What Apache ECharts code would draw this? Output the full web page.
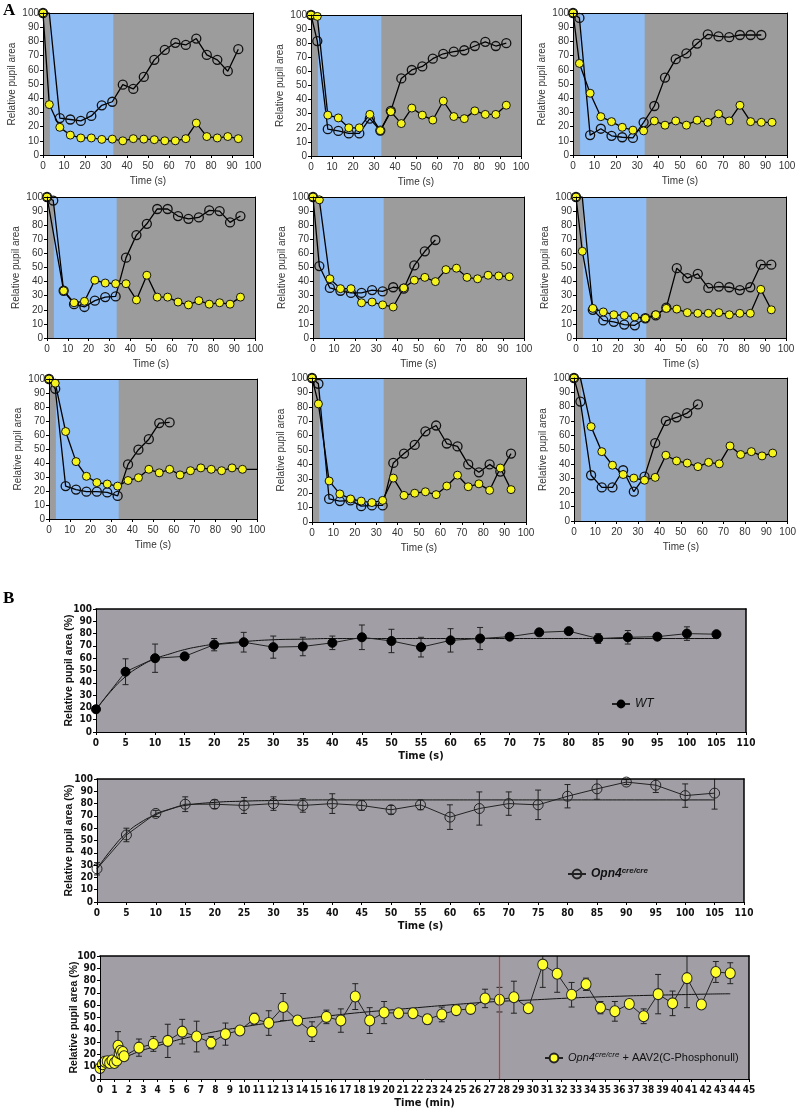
<!DOCTYPE html>
<html><head><meta charset="utf-8">
<script src="https://cdn.jsdelivr.net/npm/echarts@6/dist/echarts.min.js"></script>
<style>html,body{margin:0;padding:0;background:#fff}#c{width:799px;height:1115px}</style>
</head><body><div id="c"></div>
<script>
// ---------- DATA: part A (single-animal traces) ----------
const tA = [0,3,8,13,18,23,28,33,38,43,48,53,58,63,68,73,78,83,88,93];
const lightWindow = [3.3, 33.5];
const a1Black  = [100,100,26,25,24,27.5,35,37.5,49.5,46.5,55,67,74,79,77.5,82,70.5,67,59,74.5];
const a1Yellow = [100,35.5,19.5,14,12,12,11,11.2,10,11.5,11.2,10.8,10,10,11.5,22.5,13,12,13,11.5];
const a2Black  = [100,81.5,19,17.8,16,16,26.5,18,32,55,61,63.5,69,72.5,74,75,78,81,78,80];
const a2Yellow = [100,99,29,27,20,20,29.5,18,31.5,23,34,29,25.5,39,28,26.5,32,29.5,29.5,36];
const a3Black  = [100,96.5,14,18.5,13.5,12.5,12,23,34.5,54.5,67.5,71.5,78.5,85,83.5,83,84.5,84.5,84.5];
const a3Yellow = [100,64.5,43.5,27,23.5,19.5,17.5,17,24,21,24,21,24.5,23,29,24,35,23.5,23,23];
const a4Black  = [100,97.5,33.5,24,22,26.5,29,29.5,57,73,81,91.5,91.5,86.5,84.5,85.5,90.5,90,82,86.5];
const a4Yellow = [100,null,33.5,25,26,41,39,38.5,38.5,27,44.5,29,29,25.5,23.5,26.5,24,25,24,29];
const a5Black  = [100,51,35.5,33.5,32,32,34,33,36,35,51.5,61.5,69.5];
const a5Yellow = [100,98,42,35,35,25,25.5,23.5,22,35.5,41,43,40,48.5,49.5,43,42,44.5,44,43.5];
const a6Black  = [100,100,20,12.5,11.5,9.5,9,14,16,21.5,49.5,42.5,45.5,35.5,36.5,36,34,36,52,52];
const a6Yellow = [100,61.5,21,18.5,16.5,16,15,14,16.5,21,20.5,18,17.5,17.5,18,16.5,17.5,17.5,34.5,20];
const a7Black  = [100,93,23.5,21,19.5,19.5,19,16.5,39,49.5,57,68.5,69];
const a7Yellow = [100,97,62.5,41,30.5,26,25,23.5,27.5,29.5,35.5,33,35.5,31.5,34.5,36.5,35.5,34.5,36.5,35.5];
const a7YellowTail = [100, 35.5];   // trace continues to the axis end without a marker
const a8Black  = [100,96,16,14.5,15,11,11.5,11.5,41,47.5,53.5,63,67,54.5,52.5,40,34.5,40,35,47.5];
const a8Yellow = [100,82,28.5,19.5,16,14.5,13.5,15,30.5,18.5,20,21,19,25,32.5,24.5,26.5,22,37.5,22.5];
const a9Black  = [100,83.5,32,23.5,23.5,35.5,20.5,31,54.5,70,72.5,75.5,81.5];
const a9Yellow = [100,100,66,48.5,39,32.5,30,28.5,30.5,46,42,40.5,38,41,40,52.5,46.5,48.5,45.5,47.5];

// ---------- DATA: part B ----------
const tB = [0,5,10,15,20,25,30,35,40,45,50,55,60,65,70,75,80,85,90,95,100,105];
const wtMean = [18.5,49,60,61.5,71,73,69,69.5,72.5,77,74,69,74.5,76,77.5,81,82,76,77,77.5,80,79.5];
const wtErr  = [2,10.5,11.5,2.5,5,8,9,7.5,5.5,10,9.5,8,9.5,9,1.5,1.5,1.5,4,5.5,2.5,5.5,2];
const wtFitT = [0,2.5,5,7.5,10,12.5,15,17.5,20,25,30,35,40,50,60,70,80,90,105];
const wtFit  = [18,33,45,53.5,59.5,63.5,67,69.5,71.3,73.5,75,75.5,76,76,76,76,76,76,76];
const opnMean = [27,54.5,72,79.5,79.5,78.5,80,78.5,80,78.5,75,79,69,76,80,79,86,92,97.5,95,86.5,88.5];
const opnErr  = [5,5.5,2.5,6,3.5,6.5,5.5,5.5,8,4,3.5,4,10,13.5,9.5,12,9.5,8.5,2,6,9.5,13];
const opnFitT = [0,2.5,5,7.5,10,12.5,15,20,25,30,40,50,60,70,80,90,105];
const opnFit  = [27,43,56,65,71,75.5,78.5,81,82,82.5,83,83,83,83,83,83,83];
const aavT = [0,0.17,0.33,0.5,0.67,0.83,1.0,1.17,1.25,1.33,1.42,1.5,1.58,1.67,
  2.7,3.7,4.7,5.7,6.7,7.7,8.7,9.7,10.7,11.7,12.7,13.7,14.7,15.7,16.7,17.7,18.7,19.7,20.7,21.7,
  22.7,23.7,24.7,25.7,26.7,27.7,28.7,29.7,30.7,31.7,32.7,33.7,34.7,35.7,36.7,37.7,38.7,39.7,40.7,41.7,42.7,43.7];
const aavMean = [9,12,14,14.5,13,15,13,15,27,21,23,20,22,18.5,
  25.5,28.5,31,38.5,34.5,29.5,36.5,39.5,49,45.5,58.5,47.5,38.5,50.5,47.5,67,47.5,54,53.5,53.5,
  48.5,52.5,56,57,65.5,64.5,66.5,57.5,93,85.5,68.5,77,58,55,61,51,69,61.5,82,60.5,87,86];
const aavErr = [1,1,1,1,1,1,1,1,11.5,3,2,2,2,2,
  7,6,13.5,10,12.5,5,9,1.5,4.5,10,11,3.5,8,5.5,9.5,10.5,10.5,9,1.5,2.5,
  4,6,2.5,2.5,7.5,10,13,1.5,18.5,15,10,5,5,8,1.5,6,16,10,24,1.5,8.5,8.5];
const aavFitT = [0,1,2,3,4,5,6,7,8,10,12,14,16,18,20,22,24,26,28,30,32,34,36,38,40,42,43.7];
const aavFit  = [9,14,19,23.5,27,30.5,33.5,36,38.5,42.5,46,49,51.5,54,56,58,60,61.8,63.3,64.3,65.5,66.5,67.3,68,68.5,69,69.3];
const aavMarkTime = 27.7;
const tickB12 = 5, tickB3 = 1;

// ---------- LAYOUT / STYLE ----------
const FA = "'Liberation Sans', Arial, sans-serif";
const FN = "'Liberation Sans Narrow', 'Arial Narrow', 'DejaVu Sans Condensed', sans-serif";
const gridsA = [
  [43,13,210,142],[311,15,210,141],[573,13,214,142],
  [47,197,208,141],[313,197,211,141],[576,197,210,141],
  [49,379,208,140],[312,378,214,144],[574,378,214,143]
];
const gridsB = [[96,609,650,123],[97,779,647,123],[100,956,649,123]];
const panelsA = [
  [a1Black,a1Yellow],[a2Black,a2Yellow],[a3Black,a3Yellow],
  [a4Black,a4Yellow],[a5Black,a5Yellow],[a6Black,a6Yellow],
  [a7Black,a7Yellow],[a8Black,a8Yellow],[a9Black,a9Yellow]
];

const grid = [], xAxis = [], yAxis = [], series = [];
function addFrame(gi, xmin, xmax, w) {
  xAxis.push({gridIndex:gi, type:'value', min:xmin, max:xmax, position:'top', z:6,
    axisLine:{show:true, onZero:false, lineStyle:{color:'#000', width:w}}, axisTick:{show:false},
    axisLabel:{show:false}, splitLine:{show:false}});
  yAxis.push({gridIndex:gi, type:'value', min:0, max:100, position:'right', z:6,
    axisLine:{show:true, onZero:false, lineStyle:{color:'#000', width:w}}, axisTick:{show:false},
    axisLabel:{show:false}, splitLine:{show:false}});
}
function toPts(t, v) {
  return v.map((y, k) => y === null ? [t[k], null] :
    {value:[t[k], y], symbolSize: (k === 1 && y === 100) ? 0 : undefined});
}

// ---- Part A panels ----
panelsA.forEach((p, i) => {
  const g = gridsA[i];
  grid.push({left:g[0], top:g[1], width:g[2], height:g[3], show:true, backgroundColor:'#9c9c9c', borderWidth:0});
  const xi = xAxis.length, yi = yAxis.length;
  xAxis.push({gridIndex:i, type:'value', min:0, max:100, interval:10, z:6,
    axisLine:{show:true, onZero:false, lineStyle:{color:'#000', width:1}},
    axisTick:{show:true, length:3, lineStyle:{color:'#000'}},
    axisLabel:{fontSize:10, color:'#333', margin:6, fontFamily:FA}, splitLine:{show:false},
    name:'Time (s)', nameLocation:'middle', nameGap:21, nameMoveOverlap:false,
    nameTextStyle:{fontSize:10, color:'#333', fontFamily:FA}});
  yAxis.push({gridIndex:i, type:'value', min:0, max:100, interval:10, z:6,
    axisLine:{show:true, onZero:false, lineStyle:{color:'#000', width:1}},
    axisTick:{show:true, length:3, lineStyle:{color:'#000'}},
    axisLabel:{fontSize:10, color:'#333', margin:4, fontFamily:FA}, splitLine:{show:false},
    name:'Relative pupil area', nameLocation:'middle', nameGap:26, nameMoveOverlap:false,
    nameTextStyle:{fontSize:10, color:'#333', fontFamily:FA}});
  addFrame(i, 0, 100, 1);
  series.push({type:'line', xAxisIndex:xi, yAxisIndex:yi, data:[], z:1, silent:true,
    markArea:{silent:true, itemStyle:{color:'#8fbdf4', opacity:1},
      data:[[{xAxis:lightWindow[0], yAxis:0},{xAxis:lightWindow[1], yAxis:100}]]}});
  series.push({type:'line', xAxisIndex:xi, yAxisIndex:yi, z:3, connectNulls:true,
    data: toPts(tA, p[0]), symbol:'circle', symbolSize:9,
    lineStyle:{color:'#000', width:1.3}, itemStyle:{color:'rgba(0,0,0,0)', borderColor:'#111', borderWidth:1.3}});
  series.push({type:'line', xAxisIndex:xi, yAxisIndex:yi, z:4, connectNulls:true,
    data: toPts(tA, p[1]), symbol:'circle', symbolSize:8,
    lineStyle:{color:'#000', width:1.3}, itemStyle:{color:'#f4f41c', borderColor:'#111', borderWidth:1}});
  if (i === 6) {
    series.push({type:'line', xAxisIndex:xi, yAxisIndex:yi, z:3, symbol:'none',
      data:[[tA[tA.length-1], a7Yellow[a7Yellow.length-1]], a7YellowTail],
      lineStyle:{color:'#000', width:1.3}});
  }
});

// ---- Part B panels ----
function errSeries(xi, yi, t, mean, err) {
  return {type:'custom', xAxisIndex:xi, yAxisIndex:yi, z:3, silent:true,
    data: t.map((x,k) => [x, mean[k]-err[k], mean[k]+err[k]]),
    encode:{x:0, y:[1,2]},
    renderItem(params, api) {
      const x = api.value(0), lo = api.value(1), hi = api.value(2);
      const p1 = api.coord([x, Math.min(hi,100)]), p2 = api.coord([x, Math.max(lo,0)]);
      const w = 3, st = {stroke:'#222', lineWidth:1};
      const ch = [{type:'line', shape:{x1:p1[0], y1:p1[1], x2:p2[0], y2:p2[1]}, style:st}];
      if (hi <= 100) ch.push({type:'line', shape:{x1:p1[0]-w, y1:p1[1], x2:p1[0]+w, y2:p1[1]}, style:st});
      if (lo >= 0) ch.push({type:'line', shape:{x1:p2[0]-w, y1:p2[1], x2:p2[0]+w, y2:p2[1]}, style:st});
      return {type:'group', children:ch};
    }};
}
const bDefs = [
  {xmax:110, interval:tickB12, xname:'Time (s)', t:tB, mean:wtMean, err:wtErr, ft:wtFitT, fit:wtFit, name:'WT',
   sym:{symbolSize:9, itemStyle:{color:'#000', borderColor:'#000'}}},
  {xmax:110, interval:tickB12, xname:'Time (s)', t:tB, mean:opnMean, err:opnErr, ft:opnFitT, fit:opnFit, name:'Opn4 cre/cre',
   sym:{symbolSize:10, itemStyle:{color:'rgba(0,0,0,0)', borderColor:'#222', borderWidth:1}}},
  {xmax:45, interval:tickB3, xname:'Time (min)', t:aavT, mean:aavMean, err:aavErr, ft:aavFitT, fit:aavFit, name:'Opn4 cre/cre + AAV2(C-Phosphonull)',
   sym:{symbolSize:[10,11], itemStyle:{color:'#ffff2e', borderColor:'#222', borderWidth:1}}}
];
const bNameGap = [21, 22, 20];
bDefs.forEach((d, j) => {
  const gi = grid.length, g = gridsB[j];
  grid.push({left:g[0], top:g[1], width:g[2], height:g[3], show:true, backgroundColor:'#a19fa5', borderWidth:0});
  const xi = xAxis.length, yi = yAxis.length;
  xAxis.push({gridIndex:gi, type:'value', min:0, max:d.xmax, interval:d.interval, z:6,
    axisLine:{show:true, onZero:false, lineStyle:{color:'#000', width:1}},
    axisTick:{show:true, length:3, lineStyle:{color:'#000'}},
    axisLabel:{fontSize:10, fontWeight:'bold', color:'#111', margin:6, fontFamily:FN}, splitLine:{show:false},
    name:d.xname, nameLocation:'middle', nameGap:19, nameMoveOverlap:false,
    nameTextStyle:{fontSize:11, fontWeight:'bold', color:'#111', fontFamily:FN}});
  yAxis.push({gridIndex:gi, type:'value', min:0, max:100, interval:10, z:6,
    axisLine:{show:true, onZero:false, lineStyle:{color:'#000', width:1}},
    axisTick:{show:true, length:3, lineStyle:{color:'#000'}},
    axisLabel:{fontSize:10, fontWeight:'bold', color:'#111', margin:4, fontFamily:FN}, splitLine:{show:false},
    name:'Relative pupil area (%)', nameLocation:'middle', nameGap:bNameGap[j], nameMoveOverlap:false,
    nameTextStyle:{fontSize:10.5, fontWeight:'bold', color:'#111', fontFamily:FA}});
  addFrame(gi, 0, d.xmax, 1.5);
  series.push({type:'line', xAxisIndex:xi, yAxisIndex:yi, z:2, symbol:'none', smooth:true, silent:true,
    data: d.ft.map((x,k) => [x, d.fit[k]]), lineStyle:{color:'#111', width:1}});
  series.push(errSeries(xi, yi, d.t, d.mean, d.err));
  if (j === 2) {
    series.push({type:'line', xAxisIndex:xi, yAxisIndex:yi, data:[], z:2, silent:true,
      markLine:{silent:true, symbol:'none', label:{show:false},
        lineStyle:{color:'#cc3a3a', width:1.2, type:'solid', opacity:1},
        emphasis:{disabled:true}, data:[{xAxis:aavMarkTime}]}});
  }
  series.push(Object.assign({type:'line', name:d.name, xAxisIndex:xi, yAxisIndex:yi, z:4, symbol:'circle',
    data: d.t.map((x,k) => [x, d.mean[k]]), lineStyle:{color:'#222', width:1}}, d.sym));
});

const legend = [
  {data:['WT'], left:606, top:693, itemWidth:18, itemHeight:11, selectedMode:false,
   textStyle:{fontSize:12, fontStyle:'italic', color:'#111', fontFamily:FA}},
  {data:['Opn4 cre/cre'], left:562, top:862, itemWidth:18, itemHeight:11, selectedMode:false,
   formatter:() => '{a|Opn4}{s|cre/cre}',
   textStyle:{color:'#111', rich:{
     a:{fontSize:12, fontStyle:'italic', fontWeight:'bold', fontFamily:FA, color:'#111'},
     s:{fontSize:8, fontStyle:'italic', fontWeight:'bold', fontFamily:FA, color:'#111', verticalAlign:'top', padding:[0,0,6,0]}}}},
  {data:['Opn4 cre/cre + AAV2(C-Phosphonull)'], left:539, top:1046, itemWidth:18, itemHeight:11, selectedMode:false,
   formatter:() => '{a|Opn4}{s|cre/cre}{b| + AAV2(C-Phosphonull)}',
   textStyle:{color:'#111', rich:{
     a:{fontSize:11, fontStyle:'italic', fontFamily:FA, color:'#111'},
     s:{fontSize:8, fontStyle:'italic', fontFamily:FA, color:'#111', verticalAlign:'top', padding:[0,0,6,0]},
     b:{fontSize:11, fontFamily:FA, color:'#111'}}}}
];

const chart = echarts.init(document.getElementById('c'), null, {renderer:'canvas'});
chart.setOption({
  animation:false,
  backgroundColor:'#fff',
  title:[
    {text:'A', left:3, top:2, padding:0, textStyle:{fontSize:17, fontWeight:'bold', fontFamily:"'Liberation Serif','DejaVu Serif',serif", color:'#000'}},
    {text:'B', left:3, top:590, padding:0, textStyle:{fontSize:17, fontWeight:'bold', fontFamily:"'Liberation Serif','DejaVu Serif',serif", color:'#000'}}
  ],
  grid, xAxis, yAxis, series, legend
});
</script></body></html>
